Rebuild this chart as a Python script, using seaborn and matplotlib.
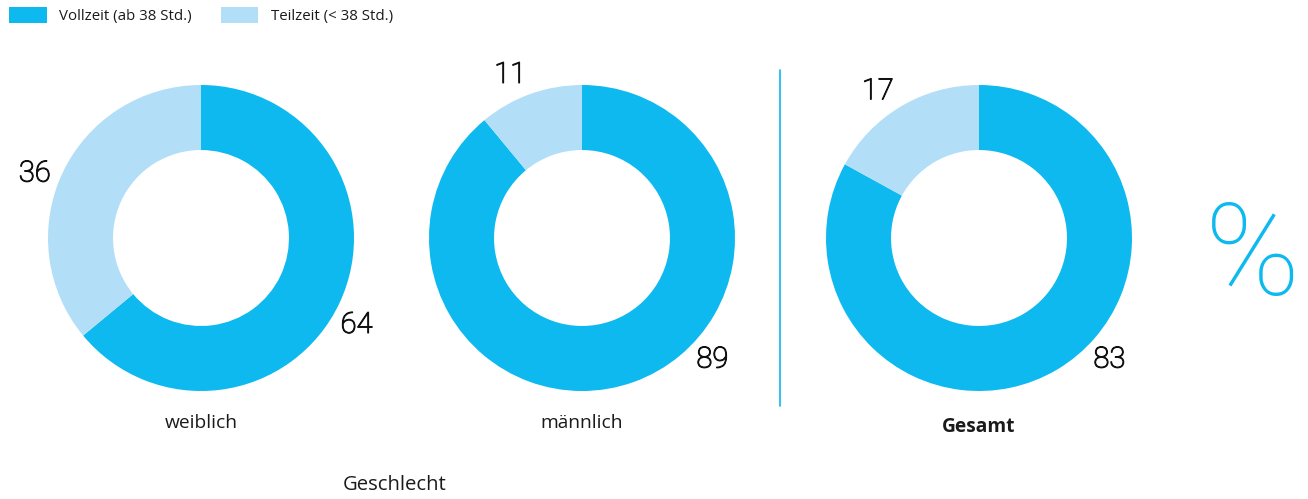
import matplotlib
matplotlib.use("Agg")
import matplotlib.pyplot as plt
import matplotlib.patches as mpatches
import matplotlib.patheffects as pe
import numpy as np
import seaborn as sns

# Data: share of full-time vs part-time employment (%)
groups = ["weiblich", "männlich", "Gesamt"]
vollzeit = [64, 89, 83]
teilzeit = [36, 11, 17]
series_names = ["Vollzeit (ab 38 Std.)", "Teilzeit (< 38 Std.)"]
axis_title = "Geschlecht"

sns.set_theme(style="white")
plt.rcParams["font.family"] = ["Open Sans", "DejaVu Sans"]

colors = ["#0db9ef", "#b2dff7"]
text_color = "#1a1a1a"

W, H = 1308, 499
fig = plt.figure(figsize=(W / 100, H / 100), dpi=100)
fig.patch.set_facecolor("white")

R_px = 153          # outer radius in pixels
span = 1.32         # axis half-range in units of radius
centers_px = [201, 582, 979]
cy_px = 238

value_effects = [pe.withStroke(linewidth=0.8, foreground="#111111")]

for i, g in enumerate(groups):
    cx = centers_px[i]
    size = 2 * R_px * span
    ax = fig.add_axes([(cx - size / 2) / W, (H - cy_px - size / 2) / H, size / W, size / H])
    vals = [vollzeit[i], teilzeit[i]]
    wedges, _ = ax.pie(vals, colors=colors, startangle=90, counterclock=False,
                       radius=1.0, wedgeprops=dict(width=0.425, edgecolor="none"))
    ax.set_xlim(-span, span)
    ax.set_ylim(-span, span)
    ax.set_aspect("equal")
    ax.axis("off")

    # value labels just outside each wedge
    for w, v in zip(wedges, vals):
        mid = (w.theta1 + w.theta2) / 2.0
        if mid > 180:
            mid -= 360
        if v > 50:
            mid = max(mid - 4, -43)
        else:
            mid = mid + 4
        ang = np.deg2rad(mid)
        r = 1.165
        ax.text(r * np.cos(ang), r * np.sin(ang), f"{v}", ha="center", va="center",
                fontsize=21, fontweight="light", color="#111111", clip_on=False,
                family=["Roboto", "DejaVu Sans"], path_effects=value_effects)

    bold = g == "Gesamt"
    base_px = 432 if bold else 428
    fig.text(cx / W, 1 - base_px / H, g, ha="center", va="baseline", fontsize=13.8,
             color=text_color, fontweight="bold" if bold else "normal")

# axis title for the gender group
fig.text(395 / W, 1 - 485 / H, axis_title, ha="center", va="center",
         fontsize=14.6, color=text_color)

# divider between the gender groups and the total
fig.add_artist(plt.Line2D([780 / W, 780 / W], [1 - 70 / H, 1 - 406 / H],
                          color=colors[0], lw=1.2))

# large percent sign
fig.text(1252 / W, 1 - 260 / H, "%", ha="center", va="center", fontsize=92,
         fontweight="ultralight", color=colors[0], family=["Roboto", "DejaVu Sans"])

# legend
handles = [mpatches.Patch(facecolor=c, edgecolor="none", label=n) for c, n in zip(colors, series_names)]
fig.legend(handles=handles, loc="upper left", bbox_to_anchor=(9 / W, 1 - 7 / H), ncol=2,
           frameon=False, fontsize=10.8, handlelength=2.5, handleheight=1.26,
           columnspacing=1.9, handletextpad=0.86, labelcolor=text_color,
           borderpad=0, borderaxespad=0)

fig.savefig("out.png", dpi=100, facecolor="white")
